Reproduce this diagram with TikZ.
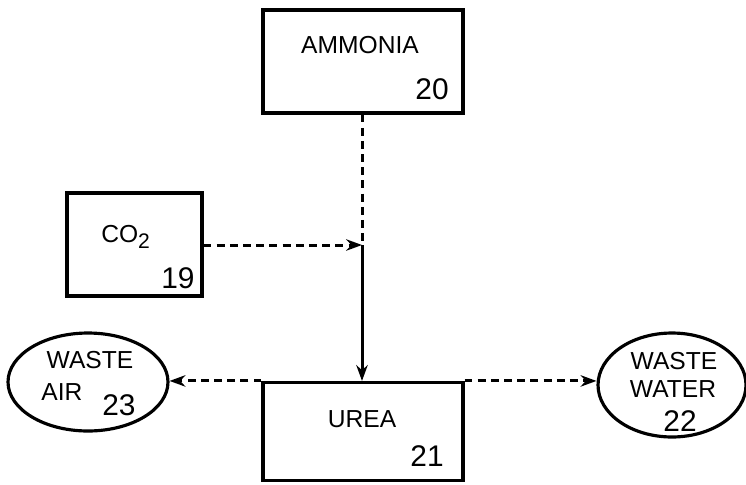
\documentclass[tikz,border=0pt]{standalone}
\usepackage{fontspec}
\setmainfont{Liberation Sans}
\usepackage{tikz}
\usetikzlibrary{shapes.geometric, arrows.meta, positioning}

\begin{document}
\begin{tikzpicture}[
  x=0.02cm, y=-0.02cm,
  every node/.style={font=\fontsize{14}{16}\selectfont},
  box/.style={rectangle, draw, line width=1.8pt, minimum width=4.0cm,
              minimum height=2.06cm, inner sep=0pt},
  waste/.style={ellipse, draw, line width=1.8pt, inner sep=0pt},
  num/.style={font=\fontsize{17}{19}\selectfont},
  flow/.style={line width=1.7pt, dash pattern=on 4.5pt off 3pt},
  arrow/.style={-{Stealth[length=9pt, width=6.5pt]}, line width=1.7pt}
]
  \useasboundingbox (0,0) rectangle (746,484);
  % process boxes
  \node[box] (ammonia) at (363,61.5) {};
  \node (ammonialbl) at (360,45) {AMMONIA};
  \node[num] (ammonianum) at (432,89) {20};
  \node[box, minimum width=2.7cm] (co) at (134.5,244.5) {};
  \node (colbl) at (126,237) {CO\textsubscript{\fontsize{12}{14}\selectfont 2}};
  \node[num] (conum) at (178,278) {19};
  \node[box, minimum height=1.96cm] (urea) at (363,431.5) {};
  \node (urealbl) at (362,419) {UREA};
  \node[num] (ureanum) at (427,456) {21};
  % waste streams
  \node[waste, minimum width=3.2cm, minimum height=1.96cm] (air) at (88,382) {};
  \node (airlbl) at (90,360) {WASTE};
  \node (airlbl2) at (62,392) {AIR};
  \node[num] (airnum) at (119,405) {23};
  \node[waste, minimum width=2.96cm, minimum height=2.08cm] (water) at (672,385) {};
  \node (waterlbl) at (674,361) {WASTE};
  \node (waterlbl2) at (673,389) {WATER};
  \node[num] (waternum) at (680,421) {22};
  \coordinate (mix) at (362,245);
  % connectors
  \draw[flow] (ammonia.south -| mix) -- (mix);
  \draw[arrow, flow] (co.east |- mix) -- (mix);
  \draw[arrow] (mix) -- (urea.north -| mix);
  \draw[arrow, flow] (urea.north west) -- (air.east |- urea.north west);
  \draw[arrow, flow] (urea.north east) -- (water.west |- urea.north east);
\end{tikzpicture}
\end{document}
